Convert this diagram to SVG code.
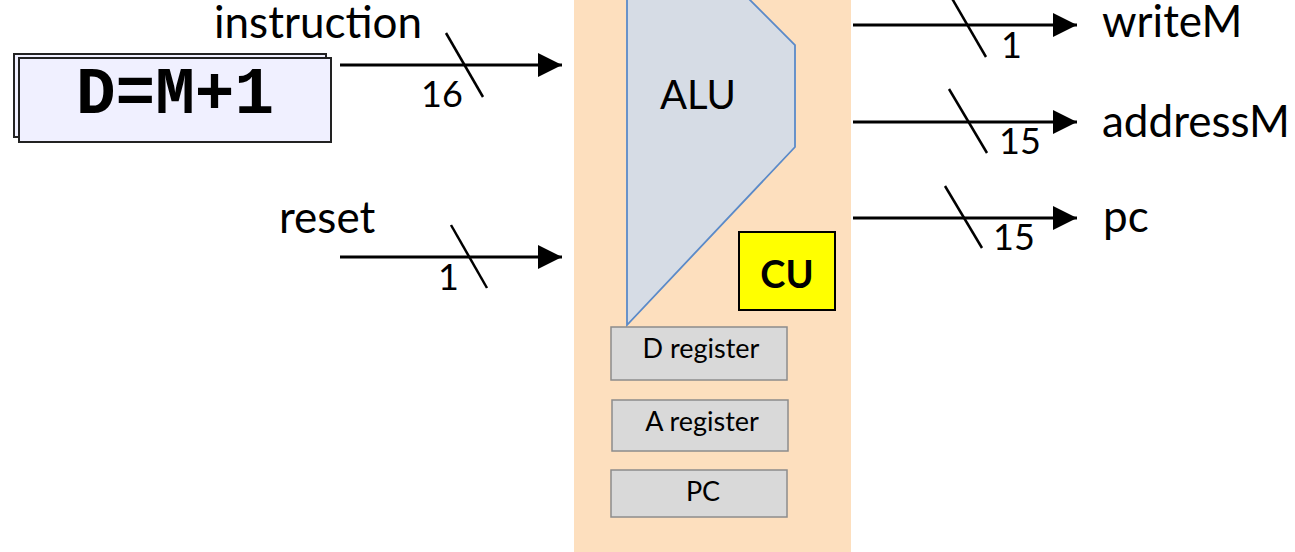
<svg xmlns="http://www.w3.org/2000/svg" width="1295" height="552" viewBox="0 0 1295 552">
<style>
.lbl{font-family:Lato,"Open Sans",sans-serif;font-size:44px;fill:#000}
.num{font-family:Lato,"Open Sans",sans-serif;font-size:36px;fill:#000}
.reg{font-family:Lato,"Open Sans",sans-serif;font-size:27px;fill:#000;text-anchor:middle}
.regbox{fill:#D9D9D9;stroke:#8C8C8C;stroke-width:1.5}
.wire{stroke:#000;stroke-width:3;fill:none}
.slash{stroke:#000;stroke-width:2.5;fill:none}
</style>
<defs>
<marker id="ah" markerUnits="userSpaceOnUse" markerWidth="26" markerHeight="26" refX="24" refY="12" orient="auto">
<path d="M0,0 L24,12 L0,24 Z" fill="#000"/>
</marker>
</defs>
<rect id="chip" x="574" y="0" width="277" height="552" fill="#FDDFBE"/>
<g id="alu">
<polygon points="627,-10 740,-10 795,45 795,147 627,325" fill="#D6DCE5" stroke="#5B8AC8" stroke-width="1.8"/>
<text x="660" y="109" style="font-family:Lato,'Open Sans',sans-serif;font-size:40px">ALU</text>
</g>
<g id="cu">
<rect x="739" y="232" width="96" height="78" fill="#FFFF00" stroke="#000" stroke-width="2"/>
<text x="787" y="288" text-anchor="middle" style="font-family:Lato,'Open Sans',sans-serif;font-size:38px;font-weight:bold">CU</text>
</g>
<g id="dreg">
<rect class="regbox" x="611" y="327" width="176" height="53"/>
<text class="reg" x="701" y="358">D register</text>
</g>
<g id="areg">
<rect class="regbox" x="612" y="400" width="176" height="51"/>
<text class="reg" x="702" y="431">A register</text>
</g>
<g id="pcreg">
<rect class="regbox" x="611" y="470" width="176" height="47"/>
<text class="reg" x="703" y="501">PC</text>
</g>
<g id="instrbox">
<rect x="14" y="54" width="312" height="83" fill="#F0F0FF" stroke="#222" stroke-width="2"/>
<rect x="19" y="58" width="312" height="84" fill="#F0F0FF" stroke="#222" stroke-width="2"/>
<text x="175" y="113" text-anchor="middle" style="font-family:'Liberation Mono',monospace;font-size:66px;font-weight:bold">D=M+1</text>
</g>
<g id="labels">
<text class="lbl" x="214" y="38">instruction</text>
<text class="lbl" x="279" y="233">reset</text>
<text class="lbl" x="1102" y="37">writeM</text>
<text class="lbl" x="1102" y="137">addressM</text>
<text class="lbl" x="1103" y="232">pc</text>
</g>
<g id="connectors">
<line class="wire" x1="340" y1="65" x2="562" y2="65" marker-end="url(#ah)"/>
<line class="slash" x1="446" y1="33" x2="483" y2="97"/>
<text class="num" x="421" y="107">16</text>
<line class="wire" x1="340" y1="257" x2="562" y2="257" marker-end="url(#ah)"/>
<line class="slash" x1="451" y1="225" x2="487" y2="288"/>
<text class="num" x="438" y="290">1</text>
<line class="wire" x1="853" y1="25" x2="1077" y2="25" marker-end="url(#ah)"/>
<line class="slash" x1="950" y1="-5" x2="986" y2="57"/>
<text class="num" x="1001" y="58">1</text>
<line class="wire" x1="853" y1="122" x2="1077" y2="122" marker-end="url(#ah)"/>
<line class="slash" x1="949" y1="89" x2="987" y2="153"/>
<text class="num" x="999" y="154">15</text>
<line class="wire" x1="853" y1="218" x2="1077" y2="218" marker-end="url(#ah)"/>
<line class="slash" x1="945" y1="186" x2="982" y2="248"/>
<text class="num" x="993" y="250">15</text>
</g>
</svg>
